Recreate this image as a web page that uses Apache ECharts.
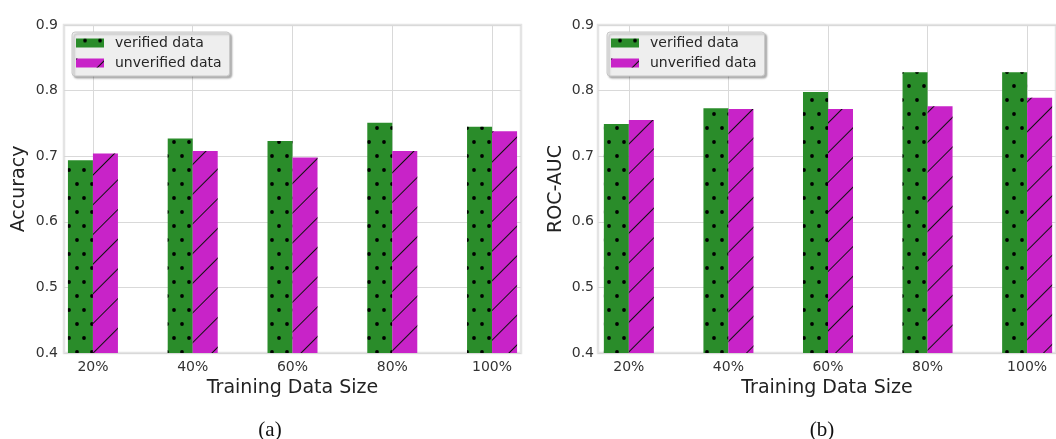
<!DOCTYPE html>
<html>
<head>
<meta charset="utf-8">
<script src="https://cdn.jsdelivr.net/npm/echarts@6/dist/echarts.min.js"></script>
<style>
  html, body { margin: 0; padding: 0; background: #fff; }
  #chart { width: 1056px; height: 439px; }
</style>
</head>
<body>
<div id="chart"></div>
<script>
// data
const categories = ['20%', '40%', '60%', '80%', '100%'];
const accVerified = [0.694, 0.727, 0.723, 0.751, 0.745];
const accUnverified = [0.704, 0.708, 0.698, 0.708, 0.738];
const aucVerified = [0.749, 0.773, 0.798, 0.828, 0.828];
const aucUnverified = [0.755, 0.772, 0.772, 0.776, 0.789];
const yTicks = [0.4, 0.5, 0.6, 0.7, 0.8, 0.9];

const font = 'DejaVu Sans';
const green = '#2a8c2a';
const magenta = '#c823c8';

// dot hatch (matplotlib '.') and slash hatch ('/')
const dotDecal = {
  symbol: 'circle',
  symbolSize: 0.95,
  color: '#000',
  dashArrayX: [[4, 11], [0, 7, 4, 4]],
  dashArrayY: [4, 10]
};
const slashDecal = {
  symbol: 'rect',
  symbolSize: 1,
  color: '#111',
  dashArrayX: [1, 0],
  dashArrayY: [1, 20],
  rotation: -Math.PI / 4
};

const toPairs = (arr) => arr.map((v, i) => [i, v]);

const makeX = (idx, min, max) => ({
  type: 'value',
  gridIndex: idx,
  min: min,
  max: max,
  name: 'Training Data Size',
  nameLocation: 'middle',
  nameGap: 24,
  nameTextStyle: { fontFamily: font, fontSize: 19, color: '#222' },
  axisLine: { show: false },
  axisTick: { show: false, customValues: [0, 1, 2, 3, 4] },
  axisLabel: {
    customValues: [0, 1, 2, 3, 4],
    formatter: (v) => categories[Math.round(v)],
    fontFamily: font,
    fontSize: 14,
    color: '#333',
    margin: 7
  },
  splitLine: { show: true, lineStyle: { color: '#d9d9d9', width: 1 } }
});

const makeY = (idx, name, gap, margin) => ({
  type: 'value',
  gridIndex: idx,
  min: yTicks[0],
  max: yTicks[yTicks.length - 1],
  interval: 0.1,
  name: name,
  nameLocation: 'middle',
  nameGap: gap,
  nameTextStyle: { fontFamily: font, fontSize: 19, color: '#222' },
  axisLine: { show: false },
  axisTick: { show: false },
  axisLabel: {
    formatter: (v) => v.toFixed(1),
    fontFamily: font,
    fontSize: 14,
    color: '#333',
    margin: margin
  },
  splitLine: { show: true, lineStyle: { color: '#d9d9d9', width: 1 } }
});

const makeLegend = (left) => ({
  left: left,
  top: 32,
  orient: 'vertical',
  data: ['verified data', 'unverified data'],
  icon: 'rect',
  itemWidth: 28,
  itemHeight: 9,
  itemGap: 6,
  padding: [4, 8, 6, 4],
  backgroundColor: '#eeeeee',
  borderColor: '#c8c8c8',
  borderWidth: 1,
  borderRadius: 3,
  shadowColor: 'rgba(0,0,0,0.3)',
  shadowBlur: 2,
  shadowOffsetX: 2,
  shadowOffsetY: 2,
  textStyle: { fontFamily: font, fontSize: 14, color: '#262626', lineHeight: 14, padding: [0, 0, 0, 6] }
});

const makeBar = (name, data, idx, color, decal) => ({
  name: name,
  type: 'bar',
  xAxisIndex: idx,
  yAxisIndex: idx,
  data: toPairs(data),
  barWidth: 25,
  barGap: '0%',
  itemStyle: { color: color, decal: decal }
});

const chart = echarts.init(document.getElementById('chart'), null, { renderer: 'canvas' });
chart.setOption({
  animation: false,
  backgroundColor: '#fff',
  grid: [
    { left: 64, top: 25, width: 457, height: 328, show: true, borderColor: '#e4e4e4', borderWidth: 2.5, backgroundColor: '#fff' },
    { left: 598, top: 25, width: 463, height: 328, show: true, borderColor: '#e4e4e4', borderWidth: 2.5, backgroundColor: '#fff' }
  ],
  xAxis: [makeX(0, -0.29, 4.29), makeX(1, -0.31, 4.29)],
  yAxis: [makeY(0, 'Accuracy', 35, 6), makeY(1, 'ROC-AUC', 32, 4)],
  legend: [makeLegend(72), makeLegend(607)],
  series: [
    makeBar('verified data', accVerified, 0, green, dotDecal),
    makeBar('unverified data', accUnverified, 0, magenta, slashDecal),
    makeBar('verified data', aucVerified, 1, green, dotDecal),
    makeBar('unverified data', aucUnverified, 1, magenta, slashDecal)
  ],
  graphic: [
    { type: 'text', x: 270, y: 430, style: { text: '(a)', font: '21px "Liberation Serif"', fill: '#111', align: 'center', verticalAlign: 'middle' } },
    { type: 'text', x: 822, y: 430, style: { text: '(b)', font: '21px "Liberation Serif"', fill: '#111', align: 'center', verticalAlign: 'middle' } }
  ]
});
</script>
</body>
</html>
